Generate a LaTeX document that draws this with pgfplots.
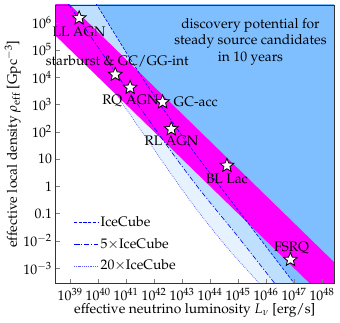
\documentclass[border=0pt]{standalone}
\usepackage[T1]{fontenc}
\usepackage{mathpazo}
\usepackage{pgfplots}
\pgfplotsset{compat=1.18}
\definecolor{bmed}{RGB}{128,191,255}
\definecolor{blight}{RGB}{191,223,255}
\definecolor{bvlight}{RGB}{230,242,255}
\definecolor{lineblue}{RGB}{0,0,255}
\definecolor{dotblue}{RGB}{90,90,255}
\definecolor{mag}{RGB}{255,0,255}
\pgfdeclareplotmark{fstar}{%
  \pgfpathmoveto{\pgfpointpolar{90}{\pgfplotmarksize}}%
  \pgfpathlineto{\pgfpointpolar{126}{0.44\pgfplotmarksize}}%
  \pgfpathlineto{\pgfpointpolar{162}{\pgfplotmarksize}}%
  \pgfpathlineto{\pgfpointpolar{198}{0.44\pgfplotmarksize}}%
  \pgfpathlineto{\pgfpointpolar{234}{\pgfplotmarksize}}%
  \pgfpathlineto{\pgfpointpolar{270}{0.44\pgfplotmarksize}}%
  \pgfpathlineto{\pgfpointpolar{306}{\pgfplotmarksize}}%
  \pgfpathlineto{\pgfpointpolar{342}{0.44\pgfplotmarksize}}%
  \pgfpathlineto{\pgfpointpolar{18}{\pgfplotmarksize}}%
  \pgfpathlineto{\pgfpointpolar{54}{0.44\pgfplotmarksize}}%
  \pgfpathclose
  \pgfusepathqfillstroke
}
\begin{document}
\begin{tikzpicture}
\begin{axis}[
  width=202pt, height=201.6pt, scale only axis,
  xmin=38.47, xmax=48.43, ymin=-3.55, ymax=6.65,
  xtick={39,40,41,42,43,44,45,46,47,48},
  xticklabels={$10^{39}$,$10^{40}$,$10^{41}$,$10^{42}$,$10^{43}$,$10^{44}$,$10^{45}$,$10^{46}$,$10^{47}$,$10^{48}$},
  ytick={-3,-2,-1,0,1,2,3,4,5,6},
  yticklabels={$10^{-3}$,$10^{-2}$,$0.1$,$1$,$10$,$10^{2}$,$10^{3}$,$10^{4}$,$10^{5}$,$10^{6}$},
  tick align=inside, xtick pos=bottom, ytick pos=left,
  major tick length=3pt,
  yticklabel style={xshift=1pt},
  axis on top,
  clip mode=individual,
  axis line style={black!80},
  xlabel={effective neutrino luminosity $L_\nu$ [erg/s]},
  ylabel={effective local density $\rho_{\rm eff}$ [Gpc$^{-3}$]},
  xlabel style={at={(rel axis cs:0.5,0)}, anchor=center, yshift=-20pt},
  ylabel style={at={(rel axis cs:0,0.5)}, anchor=center, rotate=0, yshift=31pt},
  legend style={at={(0.05,0.26)}, anchor=north west, draw=none, fill=none, row sep=3pt},
  legend cell align=left,
]
% filled regions
\addplot[fill=bvlight, draw=none, forget plot] coordinates {(38.31,7.0) (38.54,6.644) (40.525,3.553) (42.723,0.280) (43.681,-1.065) (44.71,-2.37) (45.738,-3.538) (46.12,-4.0) (49,-4) (49,7)} -- cycle;
\addplot[fill=blight, draw=none, forget plot] coordinates {(38.73,7.0) (38.965,6.644) (40.8,3.9) (42.617,1.265) (43.681,-0.189) (44.96,-1.80) (46.234,-3.462) (46.66,-4.0) (49,-4) (49,7)} -- cycle;
\addplot[fill=bmed, draw=none, forget plot] coordinates {(39.73,7.0) (39.957,6.644) (41.5,4.1) (43.0,1.85) (44.5,-0.2) (46.94,-3.47) (47.35,-4.0) (49,-4) (49,7)} -- cycle;
% magenta band (rho*L between 10^44.0 and 10^45.65)
\addplot[fill=mag, draw=none, forget plot] coordinates {(37.0,7.0) (38.65,7.0) (49.65,-4.0) (48.0,-4.0)} -- cycle;
% lines
\addplot[lineblue, line width=0.45pt, dash pattern=on 2.2pt off 1.2pt, smooth] coordinates {(39.73,7.0) (39.957,6.644) (41.5,4.1) (43.0,1.85) (44.5,-0.2) (46.94,-3.47) (47.35,-4.0)};
\addlegendentry{IceCube}
\addplot[lineblue, line width=0.45pt, dash pattern=on 3.5pt off 1.5pt on 0.8pt off 1.5pt, smooth] coordinates {(38.73,7.0) (38.965,6.644) (40.8,3.9) (42.617,1.265) (43.681,-0.189) (44.96,-1.80) (46.234,-3.462) (46.66,-4.0)};
\addlegendentry{$5\times$IceCube}
\addplot[dotblue, line width=0.45pt, dash pattern=on 0.6pt off 0.8pt, smooth] coordinates {(38.31,7.0) (38.54,6.644) (40.525,3.553) (42.723,0.280) (43.681,-1.065) (44.71,-2.37) (45.738,-3.538) (46.12,-4.0)};
\addlegendentry{$20\times$IceCube}
% stars
\addplot[only marks, mark=fstar, mark size=5.2pt, mark options={fill=white, draw=black, line width=0.6pt}, forget plot] coordinates {
  (39.32,6.17) (40.61,4.10) (41.14,3.62) (42.30,3.09) (42.61,2.10) (44.60,0.76) (46.87,-2.69)};
% labels
\node[inner sep=0pt] at (axis cs:39.32,5.66) {LL AGN};
\node[inner sep=0pt] at (axis cs:40.68,4.57) {starburst \& GC/GG-int};
\node[inner sep=0pt] at (axis cs:41.15,3.12) {RQ AGN};
\node[inner sep=0pt, anchor=west] at (axis cs:42.69,3.08) {GC-acc};
\node[inner sep=0pt] at (axis cs:42.62,1.66) {RL AGN};
\node[inner sep=0pt] at (axis cs:44.60,0.28) {BL Lac};
\node[inner sep=0pt] at (axis cs:46.91,-2.27) {FSRQ};
\node[align=center, inner sep=0pt] at (rel axis cs:0.70,0.868) {discovery potential for\\steady source candidates\\in 10 years};
\end{axis}
\path (current axis.north east) ++(4.3pt,3.6pt);
\end{tikzpicture}
\end{document}
